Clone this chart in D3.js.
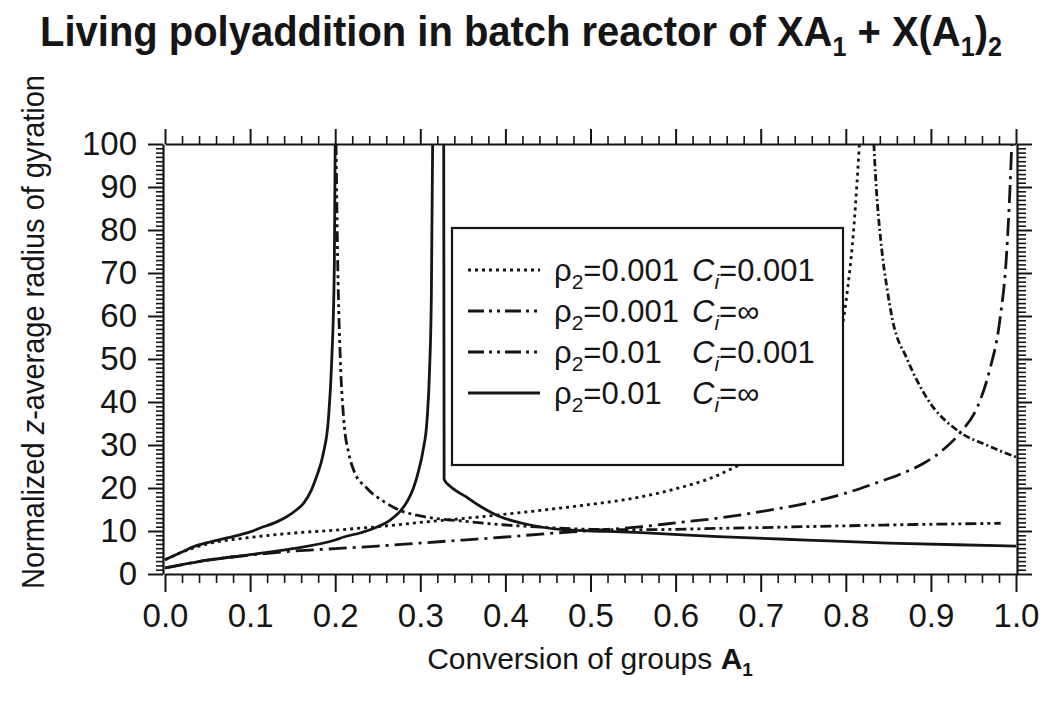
<!DOCTYPE html>
<html>
<head>
<meta charset="utf-8">
<script src="https://cdn.jsdelivr.net/npm/d3@7"></script>
<style>
  body { margin: 0; background: #fff; }
  text { font-family: "Liberation Sans", Arial, Helvetica, sans-serif; fill: #151515; }
  .axis path, .axis line { stroke: #151515; }
</style>
</head>
<body>
<svg id="chart" width="1043" height="702"></svg>
<script>
(function() {

    // tick values
    var xMajor = [0, 0.1, 0.2, 0.3, 0.4, 0.5, 0.6, 0.7, 0.8, 0.9, 1.0];
    var yMajor = [0, 10, 20, 30, 40, 50, 60, 70, 80, 90, 100];

    // legend entries
    var legendRho = ['0.001', '0.001', '0.01', '0.01'];
    var legendCi = ['0.001', '\u221e', '0.001', '\u221e'];

    // rho2=0.001 Ci=0.001 (dotted), before and after the gel point
    var dotPre = [[0, 3.3], [0.02, 5.1], [0.05, 7.0], [0.1, 8.5], [0.15, 9.5], [0.2, 10.2],
        [0.25, 11], [0.3, 12], [0.35, 12.9], [0.4, 13.9], [0.45, 15], [0.5, 16.2], [0.55, 17.6],
        [0.6, 19.8], [0.65, 23], [0.7, 28.5], [0.75, 37], [0.78, 47], [0.8, 63], [0.81, 82], [0.816, 100]];
    var dotPost = [[0.833, 100], [0.834, 96], [0.8425, 75], [0.848, 67], [0.855, 59], [0.872, 50],
        [0.895, 41], [0.934, 33], [0.965, 30], [1.0, 27.2]];

    // rho2=0.001 Ci=inf (long dash-dot)
    var dashDot = [[0, 1.4], [0.05, 3.2], [0.1, 4.4], [0.15, 5.3], [0.2, 5.9], [0.25, 6.5], [0.3, 7.2],
        [0.35, 7.9], [0.4, 8.6], [0.45, 9.4], [0.5, 10.1], [0.56, 11], [0.6, 11.9], [0.65, 13],
        [0.7, 14.5], [0.755, 16.5], [0.8, 18.8], [0.833, 21], [0.865, 23.3], [0.892, 25.8],
        [0.915, 29], [0.935, 33], [0.955, 39], [0.969, 47.4], [0.981, 59], [0.989, 74.6],
        [0.993, 90], [0.995, 100]];

    // rho2=0.01 Ci=0.001 (dash-dot-dot)
    var dash2Pre = [[0, 3.3], [0.02, 5.1], [0.033, 6.3], [0.05, 7.3], [0.073, 8.4], [0.1, 9.8],
        [0.112, 10.7], [0.13, 12], [0.143, 13.3], [0.155, 15], [0.163, 16.5], [0.172, 19.5],
        [0.178, 22.6], [0.186, 28], [0.192, 36], [0.196, 50], [0.199, 72], [0.2, 100]];
    var dash2Post = [[0.201, 100], [0.203, 72], [0.206, 50], [0.21, 36], [0.216, 28], [0.222, 24],
        [0.237, 20], [0.26, 16.5], [0.276, 14.8], [0.3, 13.5], [0.35, 12.3], [0.4, 11.4],
        [0.45, 10.8], [0.5, 10.4], [0.56, 10.3], [0.65, 10.6], [0.75, 11], [0.85, 11.4], [0.982, 11.8]];

    // rho2=0.01 Ci=inf (solid)
    var solidPre = [[0, 1.4], [0.05, 3.2], [0.1, 4.5], [0.15, 5.9], [0.2, 7.9], [0.21, 8.6],
        [0.23, 9.6], [0.25, 11], [0.265, 12.6], [0.276, 14.5], [0.285, 17], [0.292, 20],
        [0.298, 24], [0.303, 28.5], [0.308, 36], [0.311, 48], [0.313, 65], [0.3145, 100]];
    var solidPost = [[0.3275, 100], [0.328, 22], [0.335, 20.4], [0.345, 19], [0.355, 17.8],
        [0.37, 15.8], [0.394, 13.3], [0.42, 11.8], [0.468, 10.3], [0.52, 9.9], [0.56, 9.6],
        [0.65, 8.7], [0.754, 7.9], [0.85, 7.2], [0.93, 6.8], [1.0, 6.5]];

    var DOT = '3,4',
        DASHDOT = '16,5,3,5,3,5',
        DASH2 = '11,4,3,4,3,4';

    var curves = [
        { data: dotPre, dash: DOT },
        { data: dotPost, dash: '7,3,2,3' },
        { data: dashDot, dash: '18,6,3,6' },
        { data: dash2Pre, dash: null },
        { data: dash2Post, dash: DASH2 },
        { data: solidPre, dash: null },
        { data: solidPost, dash: null }
    ];
    var legendDash = ['3,4', DASHDOT, DASHDOT, null];

    var svg = d3.select('#chart');

    var x = d3.scaleLinear().domain([0, 1]).range([165, 1016]);
    var y = d3.scaleLinear().domain([0, 100]).range([574, 144]);

    // title: narrow it with a horizontal scale so it spans like the original
    var title = svg.append('text')
        .attr('x', 0).attr('y', 0)
        .attr('text-anchor', 'middle')
        .attr('font-size', 43).attr('font-weight', 'bold');
    title.append('tspan').text('Living polyaddition in batch reactor of XA');
    title.append('tspan').attr('dy', 10).attr('font-size', 27).text('1');
    title.append('tspan').attr('dy', -10).text(' + X(A');
    title.append('tspan').attr('dy', 10).attr('font-size', 27).text('1');
    title.append('tspan').attr('dy', -10).text(')');
    title.append('tspan').attr('dy', 10).attr('font-size', 27).text('2');
    var tw = title.node().getBBox().width;
    title.attr('transform', 'translate(521,46) scale(' + (962 / tw) + ',1)');

    // y label
    var yl = svg.append('text')
        .attr('transform', 'translate(44,332) rotate(-90)')
        .attr('text-anchor', 'middle')
        .attr('font-size', 31)
        .attr('textLength', 514).attr('lengthAdjust', 'spacingAndGlyphs');
    yl.append('tspan').text('Normalized ');
    yl.append('tspan').attr('font-style', 'italic').text('z');
    yl.append('tspan').text('-average radius of gyration');

    // x label
    var xl = svg.append('text')
        .attr('x', 590).attr('y', 669)
        .attr('text-anchor', 'middle')
        .attr('font-size', 30);
    xl.append('tspan').text('Conversion of groups ');
    xl.append('tspan').attr('font-weight', 'bold').text('A');
    xl.append('tspan').attr('dy', 7).attr('font-size', 19).attr('font-weight', 'bold').text('1');

    // axes
    var xMinor = d3.range(0, 51).map(function(i) { return i / 50; })
        .filter(function(v) { return Math.round(v * 50) % 5 !== 0; });
    var yMinor = d3.range(0, 101).filter(function(v) { return v % 10 !== 0; });

    function drawAxis(gen, tx, ty, cls) {
        var g = svg.append('g')
            .attr('class', 'axis ' + cls)
            .attr('transform', 'translate(' + tx + ',' + ty + ')')
            .call(gen);
        return g;
    }

    var fmt = d3.format('.1f');

    drawAxis(d3.axisBottom(x).tickValues(xMajor).tickFormat(fmt)
        .tickSize(18).tickSizeOuter(0).tickPadding(12), 0, 574, 'major');
    drawAxis(d3.axisBottom(x).tickValues(xMinor).tickFormat('').tickSize(9), 0, 574, 'minor');
    drawAxis(d3.axisTop(x).tickValues(xMajor).tickFormat('').tickSize(15).tickSizeOuter(0), 0, 144, 'major');
    drawAxis(d3.axisTop(x).tickValues(xMinor).tickFormat('').tickSize(8), 0, 144, 'minor');

    drawAxis(d3.axisLeft(y).tickValues(yMajor).tickFormat(d3.format('d'))
        .tickSize(15).tickSizeOuter(0).tickPadding(11), 163, 0, 'major');
    drawAxis(d3.axisLeft(y).tickValues(yMinor).tickFormat('').tickSize(7), 163, 0, 'minor');
    drawAxis(d3.axisRight(y).tickValues(yMajor).tickFormat('').tickSize(15).tickSizeOuter(0), 1017, 0, 'major');
    drawAxis(d3.axisRight(y).tickValues(yMinor).tickFormat('').tickSize(9), 1017, 0, 'minor');

    svg.selectAll('.axis text').attr('font-size', 33).attr('fill', '#151515');
    svg.selectAll('.axis.minor .domain').remove();
    svg.selectAll('.axis .domain').attr('stroke-width', 2.2);
    svg.selectAll('.axis.major .tick line').attr('stroke-width', 2);
    svg.selectAll('.axis.minor .tick line').attr('stroke-width', 1.6);

    // curves
    svg.append('clipPath').attr('id', 'plotclip')
        .append('rect').attr('x', 163).attr('y', 144).attr('width', 854).attr('height', 430);

    var line = d3.line()
        .x(function(d) { return x(d[0]); })
        .y(function(d) { return y(d[1]); })
        .curve(d3.curveMonotoneX);

    svg.append('g').attr('clip-path', 'url(#plotclip)')
        .selectAll('path')
        .data(curves)
        .enter()
        .append('path')
        .attr('d', function(d) { return line(d.data); })
        .attr('fill', 'none')
        .attr('stroke', '#151515')
        .attr('stroke-width', 2.8)
        .attr('stroke-dasharray', function(d) { return d.dash; });

    // legend
    var lg = svg.append('g');
    lg.append('rect')
        .attr('x', 452).attr('y', 228).attr('width', 391).attr('height', 237)
        .attr('fill', '#fff').attr('stroke', '#151515').attr('stroke-width', 2.2);

    var rows = lg.selectAll('g.row')
        .data(legendRho)
        .enter()
        .append('g')
        .attr('class', 'row')
        .attr('transform', function(d, i) { return 'translate(0,' + (270 + i * 41) + ')'; });

    rows.append('line')
        .attr('x1', 468).attr('x2', 540)
        .attr('stroke', '#151515').attr('stroke-width', 2.8)
        .attr('stroke-dasharray', function(d, i) { return legendDash[i]; });

    var t1 = rows.append('text').attr('x', 554).attr('y', 11).attr('font-size', 31);
    t1.append('tspan').text('\u03c1');
    t1.append('tspan').attr('dy', 8).attr('font-size', 21).text('2');
    t1.append('tspan').attr('dy', -8).text(function(d) { return '=' + d; });

    var t2 = rows.append('text').attr('x', 692).attr('y', 11).attr('font-size', 31);
    t2.append('tspan').attr('font-style', 'italic').text('C');
    t2.append('tspan').attr('dy', 8).attr('font-size', 21).attr('font-style', 'italic').text('i');
    t2.append('tspan').attr('dy', -8).text(function(d, i) { return '=' + legendCi[i]; });

})();
</script>
</body>
</html>
